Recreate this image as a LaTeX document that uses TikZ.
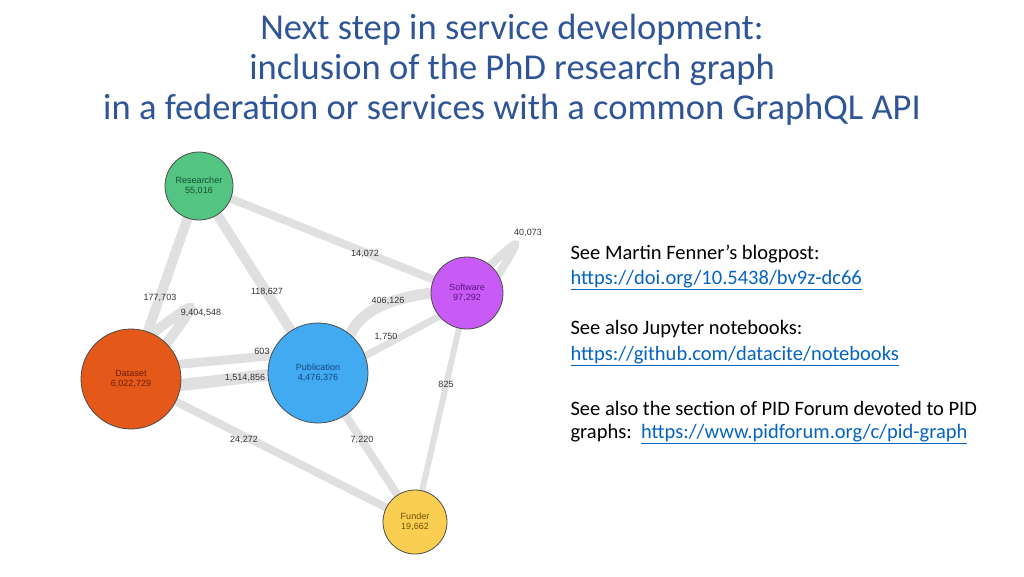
\documentclass[tikz,border=0pt]{standalone}
\usepackage{fontspec}
\usetikzlibrary{backgrounds}
\setmainfont{Carlito}
\setsansfont{Liberation Sans}
\definecolor{titleblue}{RGB}{47,85,151}
\definecolor{linkblue}{RGB}{5,99,193}
\begin{document}
\begin{tikzpicture}[x=1pt,y=-1pt]
        \tikzset{
          entity/.style={circle, draw=black!70, line width=0.8pt, inner sep=0pt, align=center, font=\sffamily\fontsize{9}{10}\selectfont},
          link/.style={draw=black!12, line cap=round},
          count/.style={font=\sffamily\fontsize{9}{10}\selectfont, text=black!80},
          note/.style={anchor=west, font=\fontsize{20.5}{24}\selectfont},
          url/.style={note, text=linkblue}
        }
        \useasboundingbox (0,0) rectangle (1024,576);
        % title
        \node (title) at (512,70) [align=center, text=titleblue, font=\fontsize{36.5}{40}\selectfont] {Next step in service development:\\inclusion of the PhD research graph\\in a federation or services with a common GraphQL API};
        % graph nodes
        \coordinate (dloop) at (200,298);
        \coordinate (sloop) at (522,236);
        \node [entity, minimum size=68pt, fill={rgb,255:red,83;green,196;blue,130}, text={rgb,255:red,20;green,80;blue,50}] (researcher) at (199,186) {Researcher\\55,016};
        \node [entity, minimum size=72pt, fill={rgb,255:red,200;green,90;blue,245}, text={rgb,255:red,90;green,20;blue,130}] (software) at (467,293) {Software\\97,292};
        \node [entity, minimum size=100pt, fill={rgb,255:red,66;green,170;blue,240}, text={rgb,255:red,20;green,70;blue,130}] (publication) at (318,373) {Publication\\4,476,376};
        \node [entity, minimum size=100pt, fill={rgb,255:red,228;green,88;blue,26}, text={rgb,255:red,110;green,30;blue,10}] (dataset) at (131,379) {Dataset\\6,022,729};
        \node [entity, minimum size=64pt, fill={rgb,255:red,250;green,206;blue,80}, text={rgb,255:red,110;green,80;blue,10}] (funder) at (415,522) {Funder\\19,662};
        % edges
        \begin{scope}[on background layer]
        \draw [link, line width=8pt] (researcher) -- (software);
        \draw [link, line width=10pt] (researcher) -- (dataset);
        \draw [link, line width=10pt] (researcher) -- (publication);
        \draw [link, line width=8pt] (dataset) -- (funder);
        \draw [link, line width=8pt] (publication) -- (funder);
        \draw [link, line width=6pt] (software) -- (funder);
        \draw [link, line width=12pt] ([yshift=-6pt]dataset.east) -- ([yshift=-2pt]publication.west);
        \draw [link, line width=9pt] ([yshift=-22pt]dataset.north east) -- (publication.160);
        \draw [link, line width=11pt] (publication.50) .. controls (365,300) and (420,295) .. (software.west);
        \draw [link, line width=7pt] (publication.20) -- (software.220);
        \draw [link, line width=10pt] (dataset.65) .. controls (dloop) and (dloop) .. (dataset.45);
        \draw [link, line width=8pt] (software.50) .. controls (sloop) and (sloop) .. (software.30);
        \end{scope}
        % counts
        \node [count] (c1) at (365,254) {14,072};
        \node [count] (c2) at (160,298) {177,703};
        \node [count] (c3) at (201,313) {9,404,548};
        \node [count] (c4) at (267,292) {118,627};
        \node [count] (c5) at (388,301) {406,126};
        \node [count] (c6) at (386,337) {1,750};
        \node [count] (c7) at (262,351) {603};
        \node [count] (c8) at (245,378) {1,514,856};
        \node [count] (c9) at (446,384) {825};
        \node [count] (c10) at (244,440) {24,272};
        \node [count] (c11) at (362,440) {7,220};
        \node [count] (c12) at (528,233) {40,073};
        % notes
        \node [note] (n1) at (567,254) {See Martin Fenner’s blogpost:};
        \node [url] (u1) at (567,280) {\underline{https://doi.org/10.5438/bv9z-dc66}};
        \node [note] (n2) at (567,329) {See also Jupyter notebooks:};
        \node [url] (u2) at (567,356) {\underline{https://github.com/datacite/notebooks}};
        \node [note] (n3) at (567,408) {See also the section of PID Forum devoted to PID};
        \node [note] (n4) at (567,434) {graphs:\ \ \textcolor{linkblue}{\underline{https://www.pidforum.org/c/pid-graph}}};
\end{tikzpicture}
\end{document}
